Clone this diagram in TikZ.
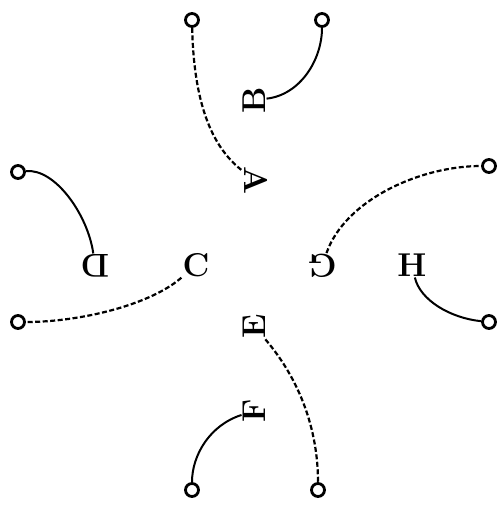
\documentclass[tikz,border=0pt]{standalone}
\usepackage{tikz}

\begin{document}
\begin{tikzpicture}[x=1pt,y=-1pt,
	letter/.style={font=\fontsize{33}{35}\selectfont\bfseries,inner sep=1pt},
	ring/.style={circle,draw,line width=2.8pt,minimum size=13pt,inner sep=0pt},
	link/.style={line width=2pt},
	dashlink/.style={line width=2.2pt,dash pattern=on 5pt off 2.5pt}]
	\useasboundingbox (0,0) rectangle (504,507);
	% letters
	\node[letter,rotate=-90] (A) at (256,181) {A};
	\node[letter,rotate=90] (B) at (254,100) {B};
	\node[letter] (C) at (196,265) {C};
	\node[letter,rotate=180] (D) at (95,266) {D};
	\node[letter,rotate=90] (E) at (254,326) {E};
	\node[letter,rotate=90] (F) at (254,411) {F};
	\node[letter,rotate=180] (G) at (322,266) {G};
	\node[letter] (H) at (412,265) {H};
	% end rings
	\node[ring] (ra) at (192,20) {};
	\node[ring] (rb) at (322,20) {};
	\node[ring] (rd) at (18,172) {};
	\node[ring] (rc) at (18,322) {};
	\node[ring] (rg) at (489,166) {};
	\node[ring] (rh) at (489,322) {};
	\node[ring] (rf) at (192,490) {};
	\node[ring] (re) at (318,490) {};
	% links
	\draw[dashlink] (ra) .. controls (194,110) and (215,150) .. (A);
	\draw[link] (B) .. controls (300,95) and (322,60) .. (rb);
	\draw[link] (rd) .. controls (55,168) and (88,215) .. (D);
	\draw[dashlink] (C) .. controls (150,305) and (80,322) .. (rc);
	\draw[dashlink] (G) .. controls (345,200) and (420,166) .. (rg);
	\draw[link] (H) .. controls (420,300) and (450,318) .. (rh);
	\draw[dashlink] (E) .. controls (300,380) and (318,430) .. (re);
	\draw[link] (F) .. controls (210,425) and (192,455) .. (rf);
\end{tikzpicture}
\end{document}
